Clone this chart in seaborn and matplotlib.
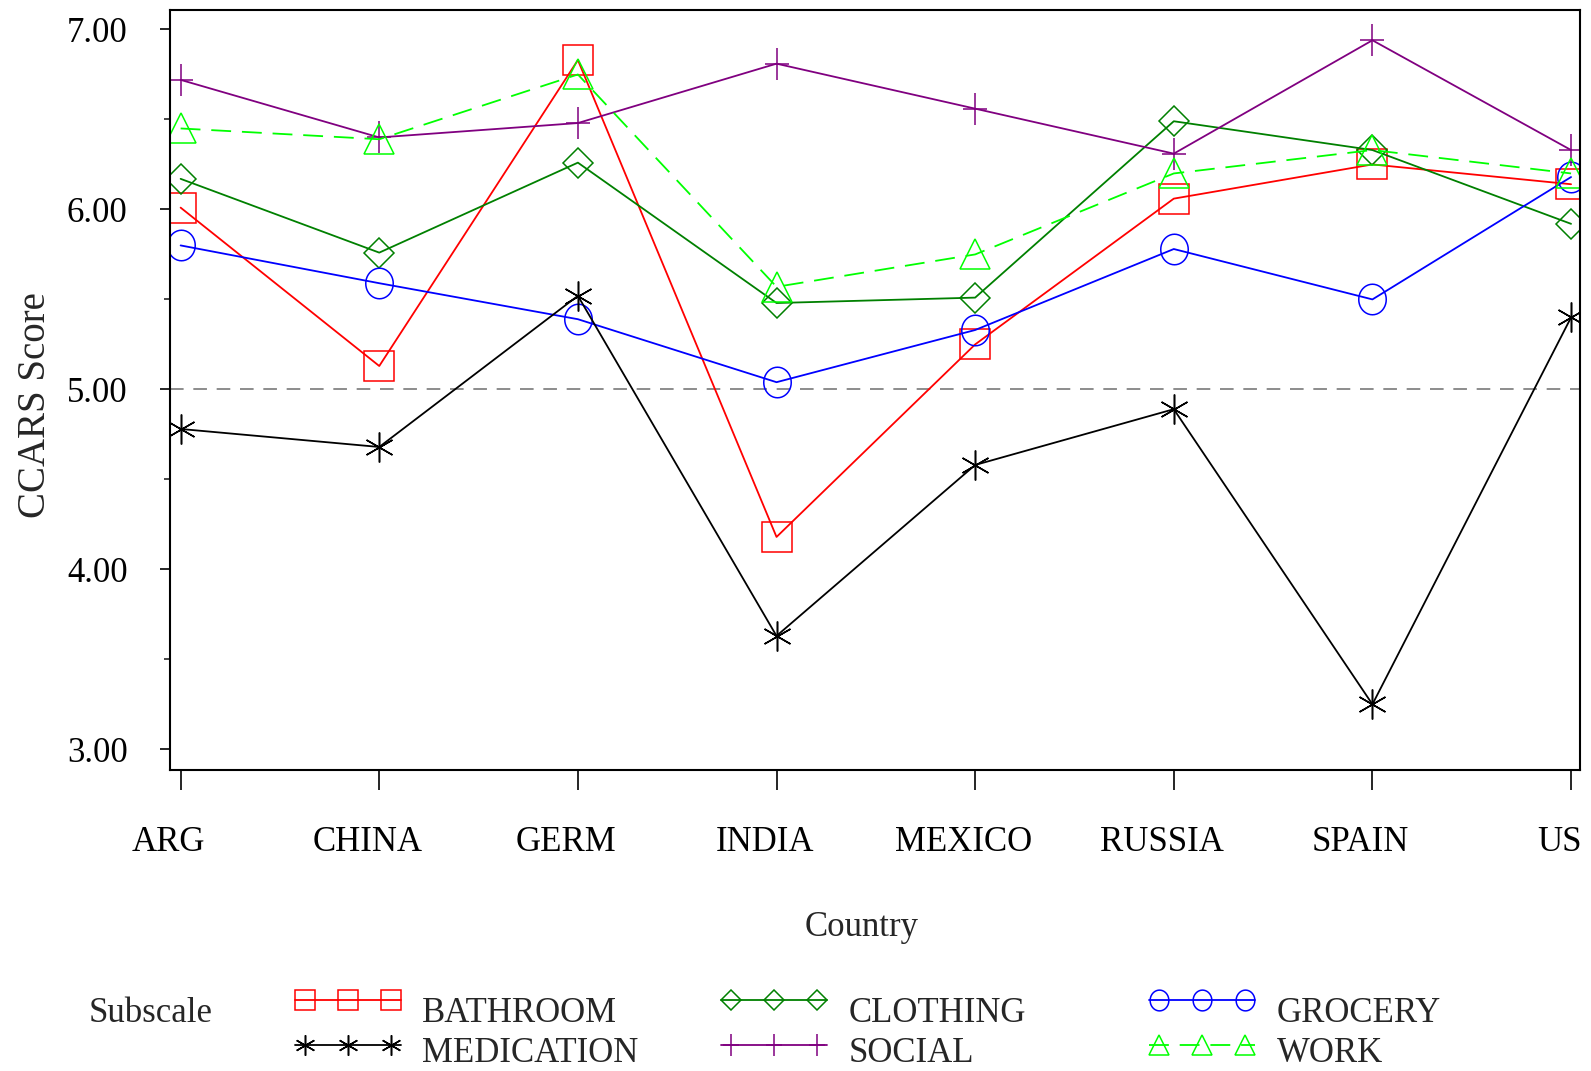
import numpy as np
import matplotlib
matplotlib.use('Agg')
import matplotlib.pyplot as plt
import matplotlib.transforms as mtransforms
from matplotlib.lines import Line2D
from matplotlib.path import Path
import seaborn as sns

countries = ['ARG', 'CHINA', 'GERM', 'INDIA', 'MEXICO', 'RUSSIA', 'SPAIN', 'US']
bathroom = [6.01, 5.13, 6.83, 4.18, 5.25, 6.06, 6.25, 6.14]
clothing = [6.17, 5.76, 6.26, 5.48, 5.51, 6.49, 6.33, 5.92]
grocery = [5.80, 5.59, 5.39, 5.04, 5.33, 5.78, 5.50, 6.18]
medication = [4.78, 4.68, 5.52, 3.63, 4.58, 4.89, 3.25, 5.40]
social = [6.72, 6.40, 6.48, 6.81, 6.56, 6.31, 6.94, 6.33]
work = [6.45, 6.39, 6.75, 5.57, 5.75, 6.20, 6.33, 6.20]
reference_score = 5.0
y_ticks = [3.0, 4.0, 5.0, 6.0, 7.0]

series = {
    'BATHROOM': bathroom,
    'CLOTHING': clothing,
    'GROCERY': grocery,
    'MEDICATION': medication,
    'SOCIAL': social,
    'WORK': work,
}

# plus sign a little narrower than tall, like the SAS symbol
plus_path = Path([(-0.75, 0), (0.75, 0), (0, -1), (0, 1)],
                 [Path.MOVETO, Path.LINETO, Path.MOVETO, Path.LINETO])
# slightly tall ellipse for the grocery circles
t = np.linspace(0, 2 * np.pi, 41)
ellipse_path = Path(np.column_stack([0.9 * np.cos(t), np.sin(t)]), closed=True)

styles = {
    'BATHROOM': dict(color='#ff0000', marker='s', ms=21.5, ls='-'),
    'CLOTHING': dict(color='#008000', marker='D', ms=15, ls='-'),
    'GROCERY': dict(color='#0000ff', marker=ellipse_path, ms=22, ls='-'),
    'MEDICATION': dict(color='#000000', marker=(6, 2, 0), ms=21.5, ls='-'),
    'SOCIAL': dict(color='#800080', marker=plus_path, ms=23, ls='-'),
    'WORK': dict(color='#00ff00', marker='^', ms=22, ls=(0, (11, 6))),
}

W, H = 1591, 1071
sns.set_style('ticks')
plt.rcParams['font.family'] = ['Liberation Serif', 'DejaVu Serif']
plt.rcParams['font.size'] = 25

fig = plt.figure(figsize=(W / 100, H / 100), dpi=100)
ax = fig.add_axes([169.5 / W, 1 - 770 / H, (1580 - 169.5) / W, (770 - 9.5) / H])

ax.axhline(reference_score, color='#8c8c8c', lw=1.4, ls=(0, (7, 5)), zorder=1)

for name, values in series.items():
    st = styles[name]
    sns.lineplot(x=countries, y=values, ax=ax, color=st['color'], lw=1.3,
                 linestyle=st['ls'], marker=st['marker'], markersize=st['ms'],
                 markerfacecolor='none', markeredgecolor=st['color'],
                 markeredgewidth=1.1, legend=False, sort=False)

ax.set_xlim(-0.056, 7.045)
ax.set_ylim(2.885, 7.111)
ax.set_yticks(y_ticks)
ax.set_yticklabels([f'{v:.2f}' for v in y_ticks])
ax.set_yticks([3.5, 4.5, 5.5, 6.5], minor=True)
ax.set_xticks(range(len(countries)))
ax.set_xticklabels(countries)

for side in ['left', 'right', 'top', 'bottom']:
    ax.spines[side].set_visible(True)
    ax.spines[side].set_linewidth(1.5)
    ax.spines[side].set_color('black')

ax.tick_params(axis='x', which='major', length=14.4, width=1.2, pad=26,
               direction='out', colors='black', labelsize=25)
ax.tick_params(axis='y', which='major', length=7.2, width=1.2, pad=23,
               direction='out', colors='black', labelsize=25)
ax.tick_params(axis='y', which='minor', length=4.3, width=1.2, direction='out')
ax.tick_params(axis='x', which='minor', length=0)

shift = mtransforms.ScaledTranslation(-12 / 100, 0, fig.dpi_scale_trans)
for lab in ax.get_xticklabels():
    lab.set_transform(lab.get_transform() + shift)

ax.set_xlabel('Country', fontsize=25)
ax.set_ylabel('CCARS Score', fontsize=28)
ax.xaxis.set_label_coords(0.491, -0.186)
ax.yaxis.set_label_coords(-0.082, 0.48)

# legend drawn below the axes in fixed columns, as in the original
fig.text(89 / W, 1 - 1022 / H, 'Subscale', fontsize=25, ha='left', va='baseline')
legend_order = [('BATHROOM', 0, 0), ('MEDICATION', 0, 1),
                ('CLOTHING', 1, 0), ('SOCIAL', 1, 1),
                ('GROCERY', 2, 0), ('WORK', 2, 1)]
col_x = [295, 721, 1149]
text_x = [422, 849, 1277]
row_y = [1000, 1045]
text_y = [1022, 1062]
for name, col, row in legend_order:
    st = styles[name]
    x0 = col_x[col]
    xs = np.array([x0, x0 + 10, x0 + 53, x0 + 96, x0 + 106]) / W
    ys = np.full(5, 1 - row_y[row] / H)
    fig.add_artist(Line2D(xs, ys, transform=fig.transFigure, color=st['color'],
                          lw=1.3, ls=st['ls'], marker=st['marker'],
                          ms=st['ms'] * 0.68, mfc='none', mec=st['color'],
                          mew=1.1, markevery=[1, 2, 3]))
    fig.text(text_x[col] / W, 1 - text_y[row] / H, name, fontsize=25,
             ha='left', va='baseline')

fig.savefig('out.png', dpi=100)
